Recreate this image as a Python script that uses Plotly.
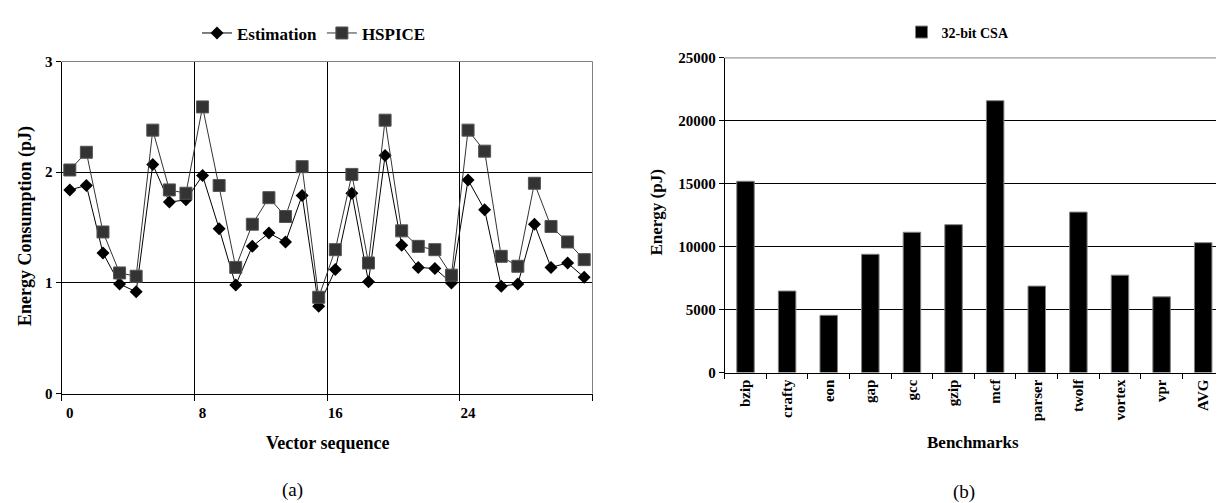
import plotly.graph_objects as go

# ---------------- data ----------------
vector_index = list(range(32))
estimation = [1.84, 1.88, 1.27, 0.99, 0.92, 2.07, 1.73, 1.75, 1.97, 1.49,
              0.98, 1.33, 1.45, 1.37, 1.79, 0.79, 1.12, 1.81, 1.01, 2.15,
              1.34, 1.14, 1.13, 1.00, 1.93, 1.66, 0.97, 0.99, 1.53, 1.14,
              1.18, 1.05]
hspice = [2.02, 2.18, 1.46, 1.09, 1.06, 2.38, 1.84, 1.81, 2.59, 1.88,
          1.14, 1.53, 1.77, 1.60, 2.05, 0.87, 1.30, 1.98, 1.18, 2.47,
          1.47, 1.33, 1.30, 1.07, 2.38, 2.19, 1.24, 1.15, 1.90, 1.51,
          1.37, 1.21]
vector_ticks = [0, 8, 16, 24]
vector_ticktext = ["0", "8", "16", "24"]
vector_bounds = [-0.5, 7.5, 15.5, 23.5, 31.5]

benchmarks = ["bzip", "crafty", "eon", "gap", "gcc", "gzip", "mcf",
              "parser", "twolf", "vortex", "vpr", "AVG"]
energy_csa = [15200, 6480, 4550, 9400, 11150, 11750, 21600, 6870,
              12750, 7740, 6020, 10320]
energy_ticks = [0, 5000, 10000, 15000, 20000, 25000]
energy_ticktext = ["0", "5000", "10000", "15000", "20000", "25000"]

FONT = "Liberation Serif"

fig = go.Figure()

fig.add_trace(go.Scatter(
    x=vector_index, y=estimation, name="Estimation", mode="lines+markers",
    line=dict(color="#000000", width=1),
    marker=dict(symbol="diamond", size=10, color="#000000",
                line=dict(width=0)),
    xaxis="x", yaxis="y", legend="legend"))
fig.add_trace(go.Scatter(
    x=vector_index, y=hspice, name="HSPICE", mode="lines+markers",
    line=dict(color="#333333", width=1),
    marker=dict(symbol="square", size=12, color="#333333",
                line=dict(width=1, color="#555555")),
    xaxis="x", yaxis="y", legend="legend"))
# helper (empty) trace so the boundary-tick axis is drawn
fig.add_trace(go.Scatter(x=[], y=[], xaxis="x3", yaxis="y",
                         showlegend=False, hoverinfo="skip"))

fig.add_trace(go.Bar(
    x=benchmarks, y=energy_csa, name="32-bit CSA",
    marker=dict(color="#000000", line=dict(color="#808080", width=1)),
    width=0.42, xaxis="x2", yaxis="y2", legend="legend2"))

W, H = 1224, 503
def px_x(p):
    return p / W
def px_y(p):
    return 1 - p / H

tickfont = dict(family=FONT, size=15, color="#000000", weight="bold")

fig.update_layout(
    width=W, height=H,
    margin=dict(l=0, r=0, t=0, b=0),
    paper_bgcolor="white", plot_bgcolor="white",
    font=dict(family=FONT, color="#000000"),
    showlegend=True,
    xaxis=dict(domain=[px_x(53.5), px_x(584.5)], anchor="y",
               range=[-0.5, 31.5], tickvals=vector_ticks,
               ticktext=vector_ticktext, ticks="outside", ticklen=5,
               tickcolor="rgba(0,0,0,0)", showgrid=False, zeroline=False,
               showline=True, linecolor="#000000", linewidth=1,
               tickfont=tickfont),
    xaxis3=dict(overlaying="x", anchor="y", range=[-0.5, 31.5],
                tickvals=vector_bounds, ticks="outside", ticklen=6,
                tickcolor="#000000", showticklabels=False, showgrid=True,
                gridcolor="#000000", gridwidth=1, zeroline=False,
                showline=False),
    yaxis=dict(domain=[px_y(390), px_y(47)], anchor="x", range=[0, 3],
               tickvals=[0, 1, 2, 3], ticks="outside", ticklen=5,
               tickcolor="#000000", showgrid=True, gridcolor="#000000",
               gridwidth=1, zeroline=False, showline=True,
               linecolor="#000000", linewidth=1, tickfont=tickfont),
    xaxis2=dict(domain=[px_x(716.7), px_x(1216)], anchor="y2",
                type="category", tickson="boundaries", ticks="outside",
                ticklen=5, tickcolor="#000000", tickangle=-90,
                showgrid=False, zeroline=False, showline=True,
                linecolor="#000000", linewidth=1, tickfont=tickfont),
    yaxis2=dict(domain=[px_y(368.3), px_y(43.3)], anchor="x2",
                range=[0, 25000], tickvals=energy_ticks,
                ticktext=energy_ticktext, ticks="outside",
                ticklen=5, tickcolor="#000000", showgrid=True,
                gridcolor="#000000", gridwidth=1, zeroline=False,
                showline=True, linecolor="#000000", linewidth=1,
                tickfont=tickfont),
    bargap=0.58,
    legend=dict(orientation="h", x=px_x(306), xanchor="center",
                y=px_y(18), yanchor="middle", bgcolor="rgba(0,0,0,0)",
                font=dict(family=FONT, size=17, color="#000000",
                          weight="bold"),
                itemwidth=30, tracegroupgap=0),
    legend2=dict(orientation="h", x=px_x(950), xanchor="center",
                 y=px_y(17), yanchor="middle", bgcolor="rgba(0,0,0,0)",
                 font=dict(family=FONT, size=14, color="#000000",
                           weight="bold"),
                 itemwidth=30),
)

# gray frame (top and right edges) of each plot area
for xr, yr in (("x domain", "y domain"), ("x2 domain", "y2 domain")):
    fig.add_shape(type="line", xref=xr, yref=yr, x0=0, x1=1, y0=1, y1=1,
                  line=dict(color="#808080", width=1), layer="above")
    fig.add_shape(type="line", xref=xr, yref=yr, x0=1, x1=1, y0=0, y1=1,
                  line=dict(color="#808080", width=1), layer="above")

title_font = dict(family=FONT, size=18, color="#000000", weight="bold")
annots = [
    dict(text="Energy Consumption (pJ)", x=px_x(17), y=px_y(217),
         textangle=-90, font=title_font),
    dict(text="Vector sequence", x=px_x(319), y=px_y(441), font=title_font),
    dict(text="Energy (pJ)", x=px_x(649), y=px_y(203), textangle=-90,
         font=dict(family=FONT, size=17, color="#000000", weight="bold")),
    dict(text="Benchmarks", x=px_x(965), y=px_y(440),
         font=dict(family=FONT, size=17, color="#000000", weight="bold")),
    dict(text="(a)", x=px_x(284), y=px_y(490),
         font=dict(family=FONT, size=19, color="#000000")),
    dict(text="(b)", x=px_x(956), y=px_y(492),
         font=dict(family=FONT, size=19, color="#000000")),
]
for a in annots:
    fig.add_annotation(xref="paper", yref="paper", showarrow=False,
                       xanchor="center", yanchor="middle", **a)

fig.write_html("out.html")
